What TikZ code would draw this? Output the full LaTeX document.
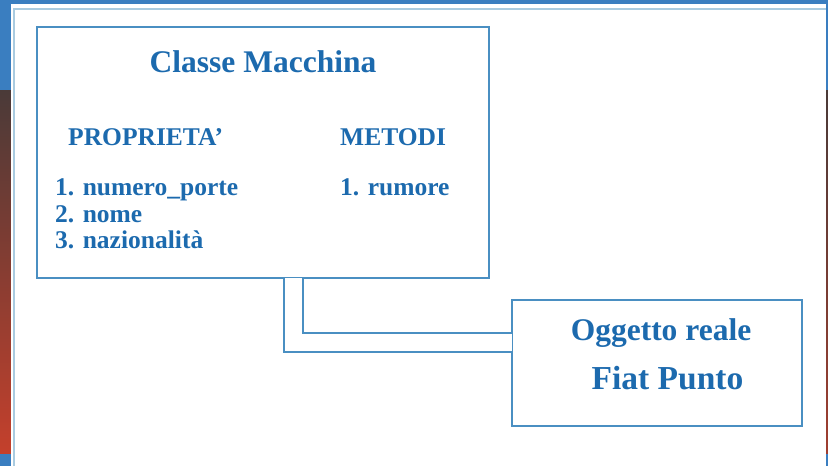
\documentclass[tikz,border=0pt]{standalone}
\usepackage{fontspec}
\setmainfont{Liberation Serif}
\definecolor{bgblue}{HTML}{3A7EC0}
\definecolor{bgbrown}{HTML}{4A3A38}
\definecolor{bgred}{HTML}{C4402C}
\definecolor{panelline}{HTML}{A9CBE0}
\definecolor{boxline}{HTML}{4A8FC2}
\definecolor{textblue}{HTML}{1C6AAE}
\begin{document}
\begin{tikzpicture}[x=1pt,y=-1pt,
  box/.style={draw=boxline,line width=2.8pt,inner sep=0pt},
  txt/.style={text=textblue,font=\bfseries\fontsize{25.5}{27}\selectfont,inner sep=0pt},
  title/.style={txt,font=\bfseries\fontsize{31.5}{33}\selectfont}]
\useasboundingbox (0,0) rectangle (828,466);
%
\fill[bgblue] (0,0) rectangle (828,466);
\shade[top color=bgbrown,bottom color=bgred] (0,90) rectangle (11,453);
\shade[top color=bgbrown,bottom color=bgred!70!bgbrown] (826,90) rectangle (828,453);
\fill[white] (11,4) rectangle (826,466);
\draw[panelline,line width=1.5pt] (14,466) -- (14,9) -- (826,9);
%
\node[box,minimum width=452pt,minimum height=251pt] (classe) at (263,152.5) {};
\node[box,minimum width=290pt,minimum height=126pt] (oggetto) at (657,363) {};
%
\coordinate (pipe) at ([yshift=1.4pt]classe.south -| 293.5,0);
\draw[boxline,line width=2.8pt,double=white,double distance=16.2pt,line join=miter]
  (pipe) |- ([xshift=1.4pt]oggetto.west |- 0,342.5);
%
\node[title,anchor=base] (nomeclasse) at (263,72) {Classe Macchina};
\node[txt,anchor=base west] (prop) at (68,145) {PROPRIETA'};
\node[txt,anchor=base west] (met) at (340,145) {METODI};
\node[txt,anchor=base west] (p1) at (55,195) {1. numero\_porte};
\node[txt,anchor=base west] (p2) at (55,222) {2. nome};
\node[txt,anchor=base west] (p3) at (55,248) {3. nazionalità};
\node[txt,anchor=base west] (m1) at (340,195) {1. rumore};
%
\node[title,anchor=base] (reale) at (661,340) {Oggetto reale};
\node[title,anchor=base,font=\bfseries\fontsize{33.5}{35}\selectfont] (fiat) at (667.5,389) {Fiat Punto};
\end{tikzpicture}
\end{document}
